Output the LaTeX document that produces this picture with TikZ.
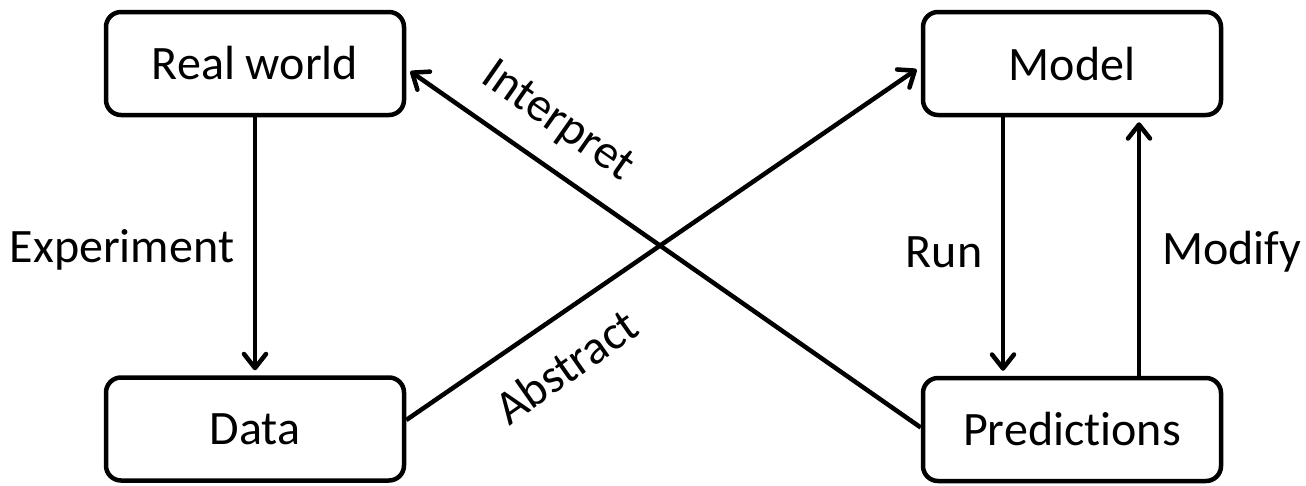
\documentclass[tikz,border=0pt]{standalone}
\usepackage{fontspec}
\setmainfont{Carlito}[Ligatures=NoCommon]
\usetikzlibrary{arrows.meta,calc}
\begin{document}
\begin{tikzpicture}[x=1pt,y=-1pt,
  box/.style={draw=black,line width=4.5pt,rounded corners=15pt,minimum width=298pt,minimum height=103pt,inner sep=0pt,font=\fontsize{48}{56}\selectfont},
  lbl/.style={font=\fontsize{48}{56}\selectfont,inner sep=0pt},
  conn/.style={line width=4.5pt,-{Straight Barb[round,length=14pt,width=22pt]},shorten >=5pt}]
\useasboundingbox (0,0) rectangle (1306,485);
\node[box] (rw) at (255,63.5) {Real world};
\node[box] (data) at (255,429) {Data};
\node[box] (model) at (1072,63.5) {Model};
\node[box] (pred) at (1072,429.5) {Predictions};
\draw[conn] (rw.south) -- (data.north);
\draw[conn] ([xshift=-69pt]model.south) -- ([xshift=-69pt]pred.north);
\draw[conn] ([xshift=67pt]pred.north) -- ([xshift=67pt]model.south);
\draw[conn] ([yshift=2pt]pred.west) -- ([yshift=-5pt]rw.east);
\draw[conn] ([yshift=9pt]data.east) -- ([yshift=-3pt]model.west);
\node[lbl] (lexp) at (122,250) {Experiment};
\node[lbl] (lrun) at (944,252) {Run};
\node[lbl] (lmod) at (1232,252) {Modify};
\node[lbl,rotate=-35] (lint) at (557,122) {Interpret};
\node[lbl,rotate=35] (labs) at (566,366) {Abstract};
\end{tikzpicture}
\end{document}
